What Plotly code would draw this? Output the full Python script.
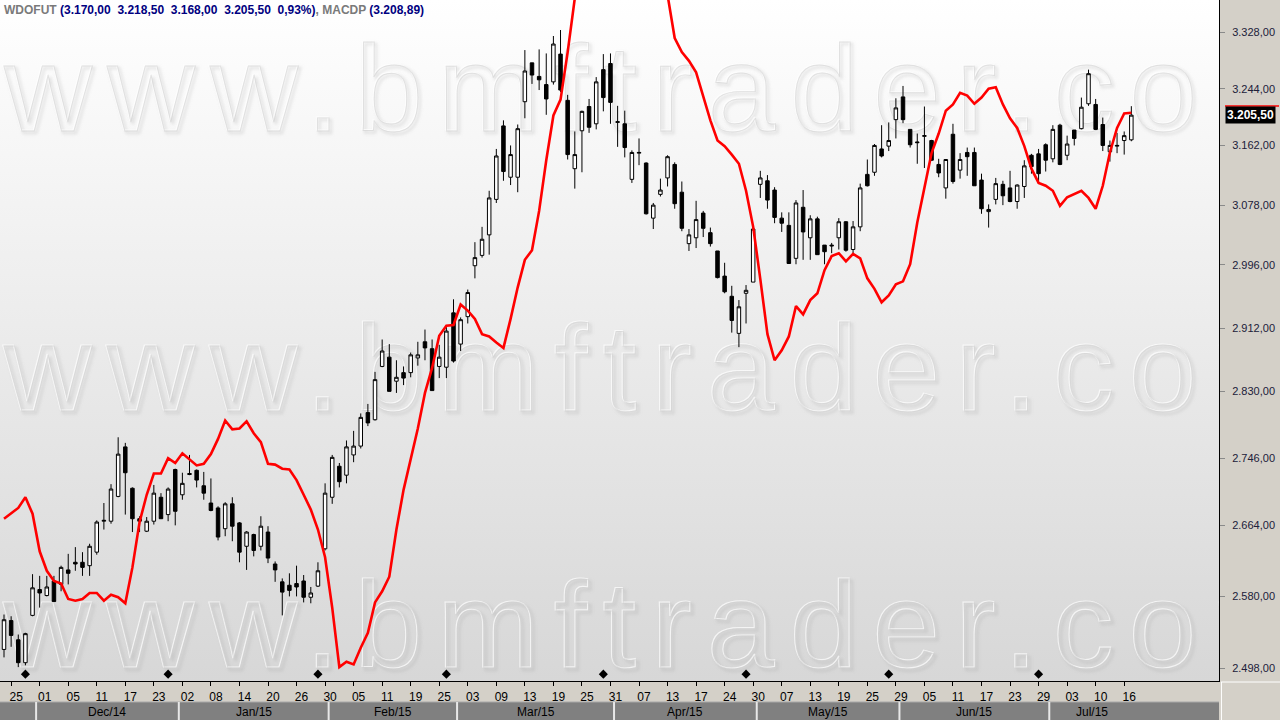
import math
import base64
import pandas as pd
import plotly.graph_objects as go

# ---------------- data ----------------
holidays = ["2014-12-24", "2014-12-25", "2014-12-31", "2015-01-01", "2015-02-16",
            "2015-02-17", "2015-04-03", "2015-04-21", "2015-05-01", "2015-06-04", "2015-07-09"]
days = [d for d in pd.bdate_range("2014-11-24", "2015-07-17") if d.strftime("%Y-%m-%d") not in holidays]

open_ = [2519, 2552, 2530, 2504, 2558, 2588, 2581, 2598, 2594, 2611,
         2620, 2620, 2616, 2632, 2669, 2669, 2699, 2760, 2709, 2672,
         2657, 2669, 2698, 2677, 2732, 2701, 2727, 2731, 2712, 2691,
         2685, 2660, 2690, 2667, 2639, 2653, 2639, 2656, 2618, 2597,
         2593, 2595, 2598, 2579, 2592, 2636, 2698, 2736, 2725, 2750,
         2761, 2803, 2794, 2862, 2874, 2843, 2854, 2854, 2873, 2894,
         2885, 2862, 2861, 2932, 2891, 2927, 2995, 3009, 3037, 3086,
         3190, 3117, 3117, 3225, 3282, 3262, 3250, 3254, 3295, 3227,
         3129, 3183, 3218, 3193, 3272, 3281, 3195, 3193, 3114, 3151,
         3137, 3060, 3093, 3116, 3135, 3096, 3025, 3033, 3067, 3040,
         3015, 2981, 2954, 2905, 2958, 2973, 3107, 3112, 3099, 3060,
         3050, 3005, 3075, 3033, 3059, 3023, 3023, 3033, 3055, 3017,
         3048, 3121, 3124, 3157, 3161, 3199, 3232, 3185, 3167, 3175,
         3169, 3135, 3102, 3178, 3127, 3152, 3152, 3113, 3069, 3086,
         3107, 3102, 3083, 3104, 3148, 3150, 3163, 3143, 3191, 3148,
         3184, 3186, 3222, 3221, 3192, 3153, 3161, 3169, 3170]

high = [2559, 2557, 2536, 2538, 2606, 2604, 2604, 2604, 2616, 2630,
        2638, 2632, 2642, 2670, 2691, 2714, 2772, 2765, 2710, 2675,
        2674, 2713, 2703, 2710, 2733, 2728, 2750, 2732, 2729, 2721,
        2687, 2692, 2698, 2668, 2657, 2654, 2675, 2663, 2621, 2601,
        2607, 2616, 2605, 2591, 2620, 2715, 2750, 2740, 2768, 2780,
        2802, 2814, 2855, 2897, 2891, 2870, 2862, 2880, 2894, 2910,
        2897, 2890, 2915, 2950, 2926, 2963, 3027, 3048, 3098, 3157,
        3198, 3162, 3192, 3301, 3282, 3302, 3296, 3322, 3331, 3235,
        3182, 3212, 3229, 3261, 3295, 3296, 3219, 3212, 3155, 3172,
        3138, 3081, 3115, 3148, 3138, 3111, 3045, 3084, 3070, 3047,
        3015, 2999, 2968, 2949, 2969, 3046, 3126, 3120, 3103, 3068,
        3068, 3085, 3099, 3064, 3062, 3023, 3026, 3060, 3056, 3056,
        3108, 3142, 3164, 3191, 3195, 3230, 3248, 3185, 3179, 3218,
        3170, 3143, 3142, 3193, 3151, 3159, 3159, 3122, 3079, 3116,
        3112, 3126, 3107, 3141, 3150, 3157, 3165, 3191, 3193, 3176,
        3184, 3231, 3272, 3229, 3202, 3169, 3180, 3182, 3218.5]

low = [2510, 2522, 2499, 2501, 2557, 2567, 2580, 2574, 2586, 2594,
       2610, 2604, 2604, 2629, 2659, 2666, 2698, 2677, 2656, 2656,
       2656, 2665, 2672, 2669, 2664, 2695, 2725, 2710, 2695, 2681,
       2646, 2651, 2645, 2620, 2611, 2627, 2634, 2619, 2597, 2558,
       2580, 2580, 2573, 2572, 2591, 2634, 2690, 2710, 2715, 2741,
       2758, 2786, 2793, 2861, 2830, 2828, 2838, 2848, 2863, 2870,
       2831, 2847, 2847, 2867, 2882, 2918, 2978, 3006, 3010, 3081,
       3112, 3106, 3096, 3201, 3251, 3242, 3206, 3250, 3239, 3142,
       3101, 3124, 3180, 3185, 3211, 3193, 3160, 3145, 3109, 3134,
       3065, 3045, 3090, 3104, 3073, 3042, 3015, 3019, 3034, 3021,
       2978, 2958, 2906, 2887, 2918, 2973, 3088, 3073, 3053, 3041,
       2998, 2997, 3003, 3003, 3010, 2997, 3012, 3017, 3014, 3011,
       3042, 3104, 3119, 3145, 3154, 3172, 3194, 3159, 3136, 3130,
       3140, 3117, 3087, 3108, 3115, 3119, 3105, 3066, 3047, 3079,
       3078, 3082, 3073, 3088, 3122, 3111, 3125, 3138, 3134, 3141,
       3162, 3185, 3219, 3184, 3154, 3139, 3151, 3149, 3168]

close = [2553, 2535, 2504, 2537, 2590, 2584, 2591, 2574, 2614, 2607,
         2618, 2614, 2639, 2668, 2670, 2708, 2751, 2728, 2672, 2669,
         2669, 2703, 2672, 2708, 2681, 2715, 2726, 2719, 2703, 2682,
         2650, 2690, 2663, 2632, 2656, 2634, 2663, 2625, 2611, 2585,
         2587, 2591, 2579, 2584, 2610, 2703, 2747, 2717, 2760, 2761,
         2797, 2790, 2845, 2882, 2830, 2848, 2847, 2877, 2877, 2886,
         2831, 2874, 2908, 2869, 2923, 2959, 3006, 3031, 3088, 3147,
         3125, 3149, 3186, 3270, 3264, 3257, 3229, 3310, 3242, 3149,
         3149, 3211, 3188, 3254, 3231, 3224, 3196, 3159, 3152, 3152,
         3066, 3078, 3099, 3146, 3080, 3046, 3037, 3058, 3046, 3025,
         2979, 2960, 2922, 2940, 2962, 3045, 3116, 3085, 3061, 3053,
         2998, 3081, 3041, 3059, 3010, 3014, 3022, 3055, 3016, 3048,
         3102, 3105, 3162, 3147, 3169, 3216, 3199, 3163, 3166, 3176,
         3141, 3123, 3142, 3111, 3142, 3146, 3105, 3073, 3072, 3108,
         3091, 3083, 3106, 3133, 3132, 3122, 3141, 3185, 3135, 3164,
         3172, 3217, 3266, 3185, 3162, 3162, 3162, 3176, 3205.5]

macdp = [2672, 2678, 2685, 2698, 2678, 2633, 2610, 2598, 2595, 2577,
         2575, 2577, 2584, 2584, 2575, 2582, 2579, 2572, 2614, 2668,
         2701, 2727, 2727, 2746, 2740, 2752, 2744, 2737, 2739, 2751,
         2770, 2793, 2782, 2783, 2792, 2777, 2766, 2739, 2738, 2733,
         2732, 2719, 2701, 2683, 2659, 2626, 2567, 2499, 2505, 2502,
         2521, 2538, 2573, 2586, 2603, 2659, 2707, 2745, 2783, 2828,
         2860, 2902, 2915, 2916, 2943, 2935, 2924, 2904, 2901, 2893,
         2886, 2924, 2966, 3003, 3016, 3070, 3141, 3205, 3228, 3298,
         3379, 3430, 3470, 3500, 3520, 3535, 3540, 3538, 3525, 3505,
         3480, 3450, 3420, 3384, 3319, 3298, 3285, 3268, 3231, 3198,
         3169, 3161, 3149, 3136, 3098, 3048, 2977, 2904, 2870, 2883,
         2901, 2941, 2930, 2949, 2958, 2989, 3008, 3012, 3001, 3011,
         3005, 2978, 2964, 2946, 2955, 2970, 2974, 2997, 3054, 3104,
         3151, 3179, 3212, 3221, 3238, 3234, 3222, 3231, 3244, 3246,
         3221, 3201, 3187, 3161, 3129, 3109, 3105, 3098, 3077, 3089,
         3093, 3098, 3088, 3073, 3105, 3152, 3187, 3208, 3208.89]

event_idx = [3, 23, 44, 62, 84, 104, 124, 145]
ytick_vals = [2498, 2580, 2664, 2746, 2830, 2912, 2996, 3078, 3162, 3244, 3328]
xtick_idx = list(range(1, len(days), 4))
watermark = "www.bmftrader.com"

# ---------------- helpers ----------------
def brl(v):
    s = f"{v:,.2f}"
    return s.replace(",", "#").replace(".", ",").replace("#", ".")

idx = list(range(len(days)))
W, H = 1280, 720
ML, MR, MT, MB = 0, 61, 0, 39
PW, PH = W - ML - MR, H - MT - MB
STEP = 7.135
XMIN = -4 / STEP
XMAX = XMIN + PW / STEP
YLO, YHI = 2483.4, 3376.4

def xp(i):  # data index -> paper x
    return (i - XMIN) / (XMAX - XMIN)

def yp(px):  # pixel row -> paper y
    return (PH - px) / PH

# ---------- background (gradient + embossed watermark) as an SVG image ----------
rows = []
for bx, by in [(4, 131), (4, 411), (4, 668)]:
    common = (f"font-family='Liberation Sans, Arial, sans-serif' font-size='122' "
              f"textLength='1310' lengthAdjust='spacing'")
    rows.append(f"<text x='{bx+2}' y='{by+2}' {common} fill='none' stroke='#909090' "
                f"stroke-opacity='0.22' stroke-width='2.4' filter='url(#bl)'>{watermark}</text>")
    rows.append(f"<text x='{bx-1}' y='{by-1}' {common} fill='none' stroke='#ffffff' "
                f"stroke-opacity='0.7' stroke-width='1.2'>{watermark}</text>")
    rows.append(f"<text x='{bx}' y='{by}' {common} fill='none' stroke='#cdcdcd' "
                f"stroke-opacity='0.55' stroke-width='0.9'>{watermark}</text>")
svg = (f"<svg xmlns='http://www.w3.org/2000/svg' width='{PW}' height='{PH}' "
       f"viewBox='0 0 {PW} {PH}' preserveAspectRatio='none'>"
       "<defs><linearGradient id='g' x1='0' y1='0' x2='0' y2='1'>"
       "<stop offset='0' stop-color='#ffffff'/><stop offset='1' stop-color='#d7d7d7'/>"
       "</linearGradient><filter id='bl' x='-5%' y='-20%' width='110%' height='140%'>"
       "<feGaussianBlur stdDeviation='1.4'/></filter></defs>"
       f"<rect width='{PW}' height='{PH}' fill='url(#g)'/>" + "".join(rows) + "</svg>")
bg_src = "data:image/svg+xml;base64," + base64.b64encode(svg.encode("utf-8")).decode("ascii")

fig = go.Figure()

fig.add_trace(go.Candlestick(
    x=idx, open=open_, high=high, low=low, close=close,
    increasing=dict(line=dict(color="black", width=1), fillcolor="white"),
    decreasing=dict(line=dict(color="black", width=1), fillcolor="black"),
    whiskerwidth=0, hoverinfo="skip", showlegend=False))

fig.add_trace(go.Scatter(
    x=idx, y=macdp, mode="lines", line=dict(color="#ff0000", width=2.6),
    hoverinfo="skip", showlegend=False))

fig.add_trace(go.Scatter(
    x=event_idx, y=[YLO * 1.0031] * len(event_idx), mode="markers",
    marker=dict(symbol="diamond", size=7, color="black"),
    hoverinfo="skip", showlegend=False, cliponaxis=False))

shapes = []
# month band
band_top, band_bot = yp(702), yp(721)
shapes.append(dict(type="rect", xref="paper", yref="paper", x0=0, x1=1,
                   y0=band_bot, y1=band_top, fillcolor="#808080",
                   line=dict(width=0), layer="above"))
shapes.append(dict(type="line", xref="paper", yref="paper", x0=0, x1=1,
                   y0=band_top, y1=band_top, line=dict(color="#a8a8a8", width=1)))
annotations = []
months = []
for i, d in enumerate(days):
    key = (d.year, d.month)
    if not months or months[-1][0] != key:
        months.append([key, i, i, d])
    else:
        months[-1][2] = i
for m_i, (key, s, e, d0) in enumerate(months):
    if m_i > 0:
        xb = xp(s - 0.5)
        shapes.append(dict(type="line", xref="paper", yref="paper", x0=xb, x1=xb,
                           y0=band_bot, y1=band_top, line=dict(color="#e8e8e8", width=2)))
        annotations.append(dict(x=(s + e) / 2, xref="x", y=(band_top + band_bot) / 2, yref="paper",
                                yanchor="middle", xanchor="center",
                                text=d0.strftime("%b/%y"), showarrow=False,
                                font=dict(family="Liberation Sans", size=12, color="black")))

# corner box lines
shapes.append(dict(type="line", xref="paper", yref="paper", x0=1.0015, x1=1 + MR / PW,
                   y0=yp(682), y1=yp(682), line=dict(color="white", width=1)))
shapes.append(dict(type="line", xref="paper", yref="paper", x0=1.002, x1=1.002,
                   y0=yp(682), y1=yp(720), line=dict(color="white", width=1)))

# last-price box
last = close[-1]
annotations.append(dict(x=1, xref="paper", y=math.log10(last), yref="y", xanchor="left",
                        yanchor="middle", xshift=6, text=f"<b>{brl(last)}</b>", showarrow=False,
                        bgcolor="black", borderpad=1,
                        font=dict(family="Liberation Sans", size=12, color="white")))
shapes.append(dict(type="line", xref="paper", yref="paper", x0=1 + 6 / PW, x1=1 + 60 / PW,
                   y0=yp(106), y1=yp(106), line=dict(color="#ff0000", width=1.5)))

# header
pct = (close[-1] / close[-2] - 1) * 100
pct_s = f"{pct:.2f}".replace(".", ",")
hdr = ("<b><span style='color:#7a7a7a'>WDOFUT</span> "
       f"<span style='color:#000080'>({brl(open_[-1])}&nbsp; {brl(high[-1])}&nbsp; {brl(low[-1])}&nbsp; "
       f"{brl(close[-1])}&nbsp; {pct_s}%)</span>"
       "<span style='color:#7a7a7a'>, MACDP</span> "
       f"<span style='color:#000080'>({brl(macdp[-1])})</span></b>")
annotations.append(dict(x=0, xref="paper", y=1, yref="paper", xanchor="left", yanchor="top",
                        xshift=2, yshift=-1, text=hdr, showarrow=False, align="left",
                        font=dict(family="Liberation Sans", size=12)))

fig.update_layout(
    width=W, height=H, margin=dict(l=ML, r=MR, t=MT, b=MB),
    paper_bgcolor="#d4d0c8", plot_bgcolor="rgba(0,0,0,0)",
    images=[dict(source=bg_src, xref="paper", yref="paper", x=0, y=1, sizex=1, sizey=1,
                 xanchor="left", yanchor="top", sizing="stretch", layer="below")],
    shapes=shapes, annotations=annotations, showlegend=False,
    xaxis=dict(range=[XMIN, XMAX], showgrid=False, zeroline=False,
               showline=True, linecolor="black", linewidth=1,
               ticks="outside", ticklen=4, tickcolor="black", tickwidth=1,
               tickvals=xtick_idx, ticktext=[days[i].strftime("%d") for i in xtick_idx],
               tickfont=dict(family="Liberation Sans", size=12, color="black"),
               ticklabelshift=5, ticklabelstandoff=1,
               rangeslider=dict(visible=False), fixedrange=True),
    yaxis=dict(type="log", side="right", range=[math.log10(YLO), math.log10(YHI)],
               showgrid=False, zeroline=False, showline=True, linecolor="black", linewidth=1,
               ticks="outside", ticklen=5, tickcolor="#8a8a8a",
               tickvals=ytick_vals, ticktext=[brl(v) for v in ytick_vals],
               tickfont=dict(family="Liberation Sans", size=11, color="#20203a"),
               ticklabelstandoff=5, fixedrange=True),
)

fig.write_html("out.html", include_plotlyjs=True, full_html=True,
               config={"displayModeBar": False, "staticPlot": True},
               post_script="document.body.style.margin='0';document.body.style.overflow='hidden';")
